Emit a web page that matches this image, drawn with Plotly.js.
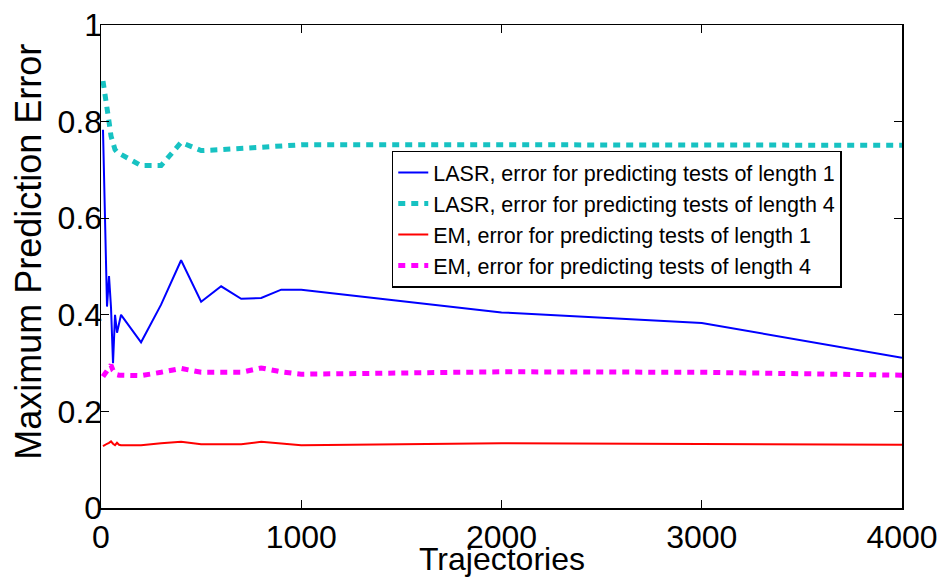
<!DOCTYPE html>
<html>
<head>
<meta charset="utf-8">
<script src="https://cdn.plot.ly/plotly-3.0.1.min.js"></script>
<style>html,body{margin:0;padding:0;background:#fff;}#chart{width:940px;height:579px;}</style>
</head>
<body>
<div id="chart"></div>
<script>
const trajectories = [10,20,30,40,50,60,70,80,90,100,200,300,400,500,600,700,800,900,1000,2000,3000,4000];
const lasrLen1 = [0.783,0.60,0.417,0.48,0.415,0.30,0.40,0.363,0.382,0.40,0.343,0.421,0.513,0.427,0.459,0.433,0.435,0.452,0.452,0.405,0.383,0.311];
const lasrLen4 = [0.884,0.86,0.83,0.80,0.77,0.752,0.742,0.737,0.734,0.732,0.709,0.709,0.757,0.740,0.742,0.745,0.748,0.750,0.752,0.752,0.751,0.751];
const emLen1 = [0.128,0.131,0.133,0.135,0.138,0.133,0.130,0.135,0.131,0.130,0.130,0.134,0.137,0.132,0.132,0.132,0.137,0.133,0.130,0.134,0.133,0.131];
const emLen4 = [0.272,0.278,0.284,0.290,0.296,0.285,0.278,0.276,0.275,0.275,0.274,0.281,0.289,0.281,0.281,0.281,0.290,0.282,0.277,0.282,0.281,0.275];
const seriesNames = [
  "LASR, error for predicting tests of length 1",
  "LASR, error for predicting tests of length 4",
  "EM, error for predicting tests of length 1",
  "EM, error for predicting tests of length 4"
];
const xTitle = "Trajectories";
const yTitle = "Maximum Prediction Error";
const yTicks = [0,0.2,0.4,0.6,0.8,1];
const yTickText = ["0","0.2","0.4","0.6","0.8","1"];
const xTicks = [0,1000,2000,3000,4000];

const traces = [
  {x: trajectories, y: lasrLen1, name: seriesNames[0], mode: "lines", line: {color: "#0000ff", width: 2}},
  {x: trajectories, y: lasrLen4, name: seriesNames[1], mode: "lines", line: {color: "#17c2c2", width: 5, dash: "7px,6px"}},
  {x: trajectories, y: emLen1, name: seriesNames[2], mode: "lines", line: {color: "#ff0000", width: 2}},
  {x: trajectories, y: emLen4, name: seriesNames[3], mode: "lines", line: {color: "#ff00ff", width: 5, dash: "7px,6px"}}
];

const font = "Liberation Sans, Arial, Helvetica, sans-serif";
const layout = {
  width: 940, height: 579,
  margin: {l: 101, r: 38, t: 25, b: 70.5},
  paper_bgcolor: "#fff", plot_bgcolor: "#fff",
  font: {family: font, color: "#000"},
  showlegend: true,
  legend: {
    x: 0.363, y: 0.74, xanchor: "left", yanchor: "top",
    bgcolor: "#fff", bordercolor: "#000", borderwidth: 1.5,
    font: {family: font, size: 21.5, color: "#000"},
    tracegroupgap: 0
  },
  xaxis: {
    range: [0, 4000], tickvals: xTicks, ticks: "inside", ticklen: 8, tickcolor: "#000",
    showline: true, linecolor: "#000", linewidth: 1.5, mirror: "ticks",
    showgrid: false, zeroline: false,
    tickfont: {family: font, size: 32, color: "#000"}
  },
  yaxis: {
    range: [0, 1], tickvals: yTicks, ticktext: yTickText, ticks: "inside", ticklen: 8, tickcolor: "#000",
    showline: true, linecolor: "#000", linewidth: 1.5, mirror: "ticks",
    showgrid: false, zeroline: false, ticklabelstandoff: -9,
    tickfont: {family: font, size: 32, color: "#000"}
  },
  annotations: [
    {text: xTitle, xref: "paper", yref: "paper", x: 0.5, y: -0.106, xanchor: "center", yanchor: "middle",
     showarrow: false, font: {family: font, size: 32, color: "#000"}},
    {text: yTitle, xref: "paper", yref: "paper", x: -0.0905, y: 0.5295, xanchor: "center", yanchor: "middle",
     textangle: -90, showarrow: false, font: {family: font, size: 36, color: "#000"}}
  ]
};

Plotly.newPlot("chart", traces, layout, {displayModeBar: false, staticPlot: true});
</script>
</body>
</html>
